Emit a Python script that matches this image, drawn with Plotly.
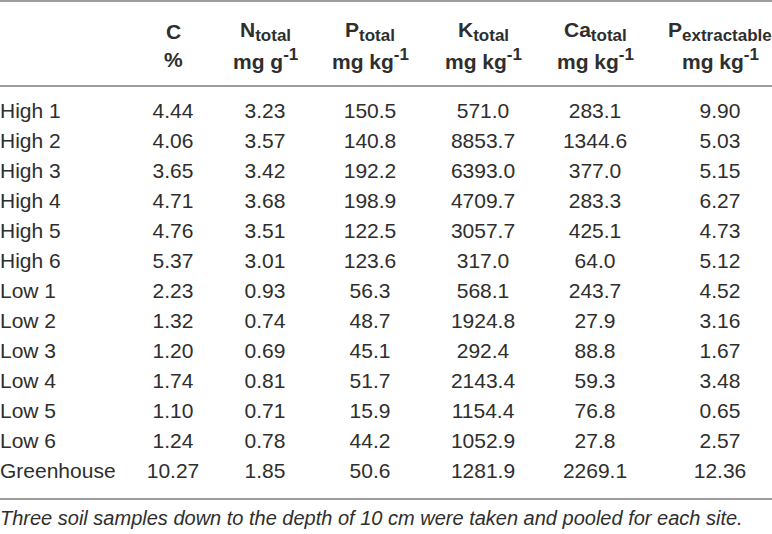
import plotly.graph_objects as go

# ---------------- data ----------------
sites = ["High 1", "High 2", "High 3", "High 4", "High 5", "High 6",
         "Low 1", "Low 2", "Low 3", "Low 4", "Low 5", "Low 6", "Greenhouse"]

c_pct = [4.44, 4.06, 3.65, 4.71, 4.76, 5.37, 2.23, 1.32, 1.20, 1.74, 1.10, 1.24, 10.27]
n_total = [3.23, 3.57, 3.42, 3.68, 3.51, 3.01, 0.93, 0.74, 0.69, 0.81, 0.71, 0.78, 1.85]
p_total = [150.5, 140.8, 192.2, 198.9, 122.5, 123.6, 56.3, 48.7, 45.1, 51.7, 15.9, 44.2, 50.6]
k_total = [571.0, 8853.7, 6393.0, 4709.7, 3057.7, 317.0, 568.1, 1924.8, 292.4, 2143.4, 1154.4, 1052.9, 1281.9]
ca_total = [283.1, 1344.6, 377.0, 283.3, 425.1, 64.0, 243.7, 27.9, 88.8, 59.3, 76.8, 27.8, 2269.1]
p_extract = [9.90, 5.03, 5.15, 6.27, 4.73, 5.12, 4.52, 3.16, 1.67, 3.48, 0.65, 2.57, 12.36]

header_base = ["C", "N", "P", "K", "Ca", "P"]
header_sub = ["", "total", "total", "total", "total", "extractable"]
unit_base = ["%", "mg g", "mg kg", "mg kg", "mg kg", "mg kg"]
unit_sup = ["", "-1", "-1", "-1", "-1", "-1"]
decimals = [2, 2, 1, 1, 1, 2]

footnote = "Three soil samples down to the depth of 10 cm were taken and pooled for each site."

# ---------------- layout constants ----------------
W, H = 772, 534
COL_X = [173, 265, 370, 483, 595, 720]      # column centres (px)
FIRST_ROW_PX, ROW_STEP = 113, 30             # row layout
TITLE_PX, UNIT_PX = 31, 59
RULES_PX = [1, 86, 499]
FOOT_PX = 518
FONT = "Liberation Sans"
TXT = "#2e2e2e"
RULE = "#9c9c9c"
FS = 21
HFS = 21
SUBFS = 17
FOOTFS = 20


def py(px):
    return 1 - px / H


def small(s, tag):
    if not s:
        return ""
    return f'<{tag}><span style="font-size:{SUBFS}px">{s}</span></{tag}>'


columns = [c_pct, n_total, p_total, k_total, ca_total, p_extract]

fig = go.Figure()

# site labels
fig.add_trace(go.Scatter(
    x=[0] * len(sites), y=sites, mode="text", text=sites,
    textposition="middle right",
    textfont=dict(family=FONT, size=FS, color=TXT),
    hoverinfo="skip", showlegend=False))

# value columns
for vals, cx, d in zip(columns, COL_X, decimals):
    fig.add_trace(go.Scatter(
        x=[cx] * len(vals), y=sites, mode="text",
        text=[f"{v:.{d}f}" for v in vals],
        textposition="middle center",
        textfont=dict(family=FONT, size=FS, color=TXT),
        hoverinfo="skip", showlegend=False))

annotations = []
for cx, b, s, ub, us in zip(COL_X, header_base, header_sub, unit_base, unit_sup):
    annotations.append(dict(x=cx, xref="x", y=py(TITLE_PX), yref="paper",
                            text=f"<b>{b}{small(s, 'sub')}</b>", showarrow=False,
                            xanchor="center", yanchor="middle",
                            font=dict(family=FONT, size=HFS, color=TXT)))
    annotations.append(dict(x=cx, xref="x", y=py(UNIT_PX), yref="paper",
                            text=f"<b>{ub}{small(us, 'sup')}</b>", showarrow=False,
                            xanchor="center", yanchor="middle",
                            font=dict(family=FONT, size=HFS, color=TXT)))

annotations.append(dict(x=0, xref="paper", y=py(FOOT_PX), yref="paper",
                        text=f"<i>{footnote}</i>", showarrow=False,
                        xanchor="left", yanchor="middle", xshift=-2,
                        font=dict(family=FONT, size=FOOTFS, color=TXT)))

shapes = [dict(type="line", xref="paper", yref="paper", x0=0, x1=1,
               y0=py(p), y1=py(p), line=dict(color=RULE, width=2))
          for p in RULES_PX]

top_val = -FIRST_ROW_PX / ROW_STEP
bot_val = (H - FIRST_ROW_PX) / ROW_STEP

fig.update_layout(
    width=W, height=H,
    margin=dict(l=0, r=0, t=0, b=0),
    paper_bgcolor="white", plot_bgcolor="white",
    xaxis=dict(range=[0, W], visible=False, fixedrange=True),
    yaxis=dict(type="category", categoryarray=sites, categoryorder="array",
               range=[bot_val, top_val], visible=False, fixedrange=True),
    annotations=annotations, shapes=shapes,
    hovermode=False,
)

fig.write_html("out.html",
               config={"displayModeBar": False, "staticPlot": True},
               post_script="document.body.style.margin='0';"
                           "document.body.style.overflow='hidden';")
